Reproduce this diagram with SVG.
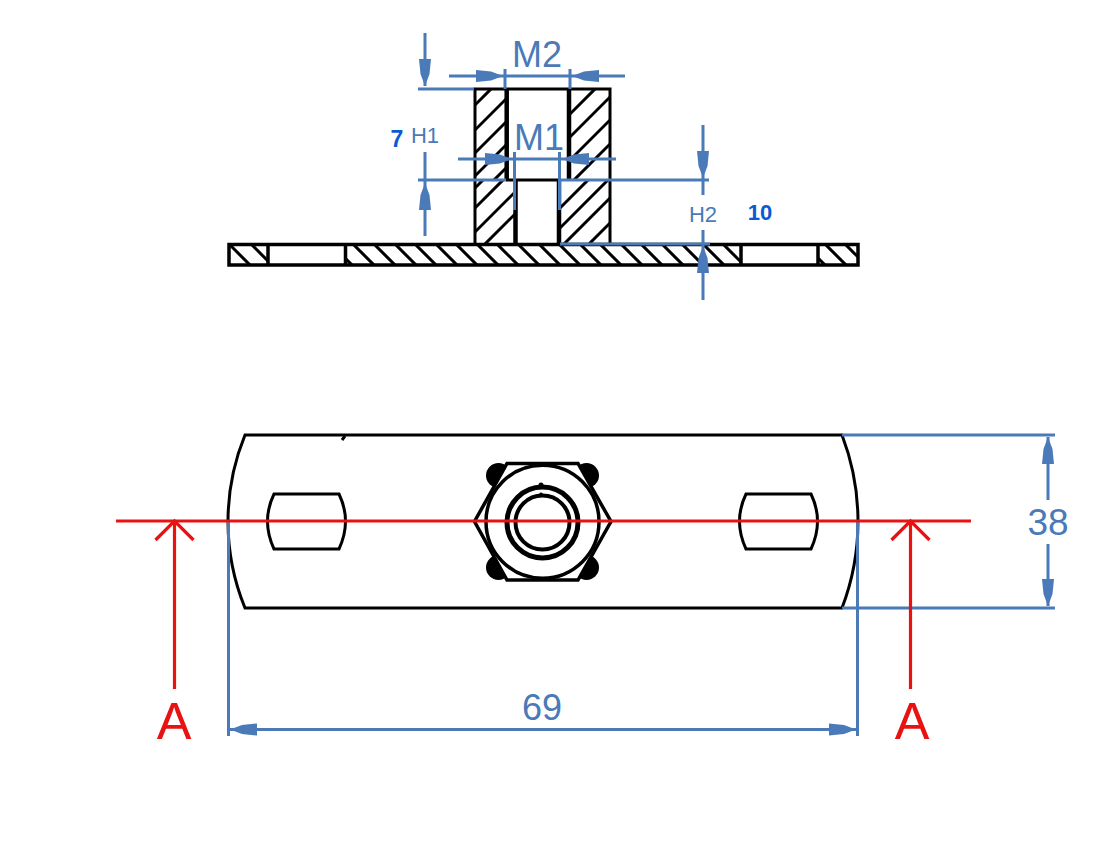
<svg xmlns="http://www.w3.org/2000/svg" width="1118" height="849" viewBox="0 0 1118 849">
<style>
.k{fill:none;stroke:#000;stroke-width:3}
.h{fill:none;stroke:#000;stroke-width:3}
.b{fill:none;stroke:#4a7ab8;stroke-width:3}
.a{fill:#4a7ab8;stroke:none}
.r{fill:none;stroke:#e81212;stroke-width:3.200}
.t{font-family:"Liberation Sans",Arial,sans-serif;fill:#4a7ab8;text-anchor:middle}
.n{font-family:"Liberation Sans",Arial,sans-serif;font-weight:700;fill:#0a5ad2;text-anchor:middle}
.ra{font-family:"Liberation Sans",Arial,sans-serif;fill:#e81212;text-anchor:middle;font-size:52px}
</style>
<defs>
<polygon id="ah" class="a" points="0,0 -12,-4.500 -27,-6 -27,6 -12,4.500"/>
<clipPath id="cLU"><rect x="475" y="89" width="31" height="91"/></clipPath>
<clipPath id="cLL"><rect x="475" y="180" width="40" height="64"/></clipPath>
<clipPath id="cRU"><rect x="569" y="89" width="41" height="91"/></clipPath>
<clipPath id="cRL"><rect x="559" y="180" width="51" height="64"/></clipPath>
<clipPath id="cP"><path d="M229,245H268V265H229ZM346,245H741V265H346ZM818,245H858V265H818Z"/></clipPath>
</defs>
<rect width="1118" height="849" fill="#fff"/>
<g id="section-view">
<g clip-path="url(#cLU)"><path class="h" d="M470,110L495,85M470,135L520,85M470,158L520,108M470,181L520,131M470,204L520,154"/></g>
<g clip-path="url(#cLL)"><path class="h" d="M470,193L520,143M470,213L520,163M470,237L530,177M480,249L540,189"/></g>
<g clip-path="url(#cRU)"><path class="h" d="M565,119L620,64M565,142L620,87M565,165L620,110M565,189L620,134"/></g>
<g clip-path="url(#cRL)"><path class="h" d="M555,213L620,148M555,233L620,168M555,253L620,188M580,253L620,213"/></g>
<g clip-path="url(#cP)"><path class="h" d="M220,235L260,275M242,235L282,275M322,235L362,275M344,235L384,275M365,235L405,275M386,235L426,275M406,235L446,275M427,235L467,275M447,235L487,275M468,235L508,275M488,235L528,275M509,235L549,275M530,235L570,275M550,235L590,275M571,235L611,275M591,235L631,275M612,235L652,275M632,235L672,275M653,235L693,275M673,235L713,275M694,235L734,275M714,235L754,275M795,235L835,275M816,235L856,275M836,235L876,275"/></g>
<path class="k" d="M475,244V89H610V244"/>
<path class="k" style="stroke-width:3.500" d="M229,244.500H858V265H229ZM268,245V265M345.500,245V265M741,245V265M818,245V265"/>
<path class="k" style="stroke-width:4.500" d="M506.700,89V180M569,89V180M515.500,180V244M559,180V244"/>
<path class="k" d="M506,180H560"/>
</g>
<g id="plan-view">
<path class="k" d="M245,435H842A242,242 0 0 1 842,608H245A228.600,228.600 0 0 1 245,435Z"/>
<path class="k" d="M342,440L345,436"/>
<path class="k" d="M274,494H339Q352,521 339,549H274Q261,521 274,494Z"/>
<path class="k" d="M746,494H811Q824,521 811,549H746Q733,521 746,494Z"/>
</g>
<g id="nut">
<circle cx="498.500" cy="475.500" r="12.500"/><circle cx="586.500" cy="475.500" r="12.500"/><circle cx="498.500" cy="567.500" r="12.500"/><circle cx="586.500" cy="567.500" r="12.500"/>
<polygon points="507,463.500 578,463.500 611,521.500 578,580 507,580 474.500,521.500" fill="#fff" stroke="#000" stroke-width="3.500"/>
<circle class="k" style="stroke-width:3.500" cx="542.500" cy="521.700" r="56.500" fill="#fff"/>
<circle class="k" style="stroke-width:5" cx="542.500" cy="522.500" r="35.500"/>
<circle class="k" style="stroke-width:4" cx="542.500" cy="522.500" r="27"/>
<circle cx="541" cy="485" r="2.500"/><circle cx="541" cy="494.500" r="2"/>
</g>
<g id="connectors">
<path class="b" d="M425,33V86M425,152V236M418,89H474M418,180H506M560,180H709"/>
<path class="b" d="M449,76H625M505,69V89M570,69V89"/>
<path class="b" d="M458,159H616M514.500,152V210M559.500,152V210"/>
<path class="b" d="M703,125V195M703,230V300M560,244H710"/>
<use href="#ah" transform="translate(425,86) rotate(90)"/>
<use href="#ah" transform="translate(425,183) rotate(-90)"/>
<use href="#ah" transform="translate(503,76)"/>
<use href="#ah" transform="translate(572,76) rotate(180)"/>
<use href="#ah" transform="translate(512,159)"/>
<use href="#ah" transform="translate(562,159) rotate(180)"/>
<use href="#ah" transform="translate(703,178) rotate(90)"/>
<use href="#ah" transform="translate(703,246) rotate(-90)"/>
<path class="b" d="M842,435H1055M842,608H1055M1048,437V500M1048,544V606"/>
<use href="#ah" transform="translate(1048,437) rotate(-90)"/>
<use href="#ah" transform="translate(1048,606) rotate(90)"/>
<path class="b" d="M228.500,521V736M857.500,521V736M229,729.500H857"/>
<use href="#ah" transform="translate(230,729.500) rotate(180)"/>
<use href="#ah" transform="translate(856,729.500)"/>
</g>
<g id="section-line">
<path class="r" d="M116,521H971"/>
<path class="r" d="M174.500,689V522M155.500,540L174.500,521L193.500,540"/>
<path class="r" d="M910.500,689V522M891.500,540L910.500,521L929.500,540"/>
<text class="ra" x="174" y="739">A</text>
<text class="ra" x="912" y="739">A</text>
</g>
<g id="labels">
<text class="t" x="537" y="67" font-size="36">M2</text>
<text class="t" x="539" y="150" font-size="36">M1</text>
<text class="t" x="425" y="143" font-size="22">H1</text>
<text class="t" x="703" y="222" font-size="22">H2</text>
<text class="n" x="397" y="147" font-size="23">7</text>
<text class="n" x="760" y="220" font-size="22">10</text>
<text class="t" x="542" y="720" font-size="36">69</text>
<text class="t" x="1048" y="535" font-size="37">38</text>
</g>
</svg>
